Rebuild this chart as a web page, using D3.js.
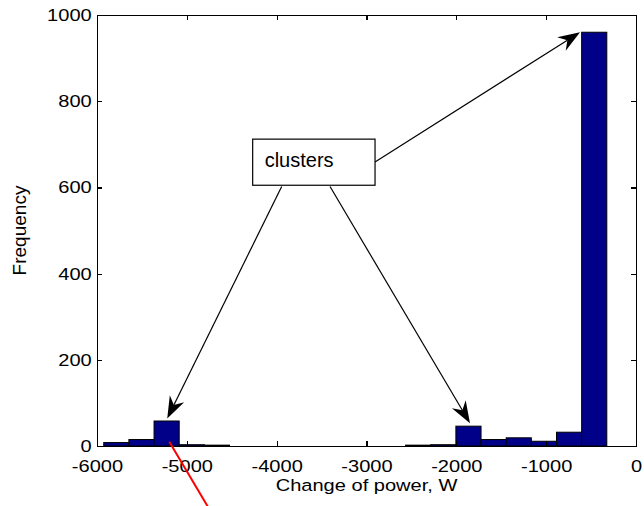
<!DOCTYPE html>
<html>
<head>
<meta charset="utf-8">
<script src="https://d3js.org/d3.v7.min.js"></script>
<style>
body { margin: 0; padding: 0; background: #fff; }
svg { display: block; }
text { font-family: "Liberation Sans", Arial, Helvetica, sans-serif; fill: #000; }
.axis path, .axis line { stroke: #000; stroke-width: 1.2; shape-rendering: crispEdges; }
</style>
</head>
<body>
<svg id="chart" width="644" height="506"></svg>
<script>
// histogram bin edges (W) and counts
const binEdges = [-5925, -5645, -5365, -5085, -4805, -4525, -4245, -3965, -3685, -3405, -3125,
                  -2845, -2565, -2285, -2005, -1725, -1445, -1165, -885, -605, -325];
const counts = [8, 15, 58, 3, 2, 0, 0, 0, 0, 0, 0, 0, 2, 3, 46, 15, 19, 11, 32, 960];
const xTicks = [-6000, -5000, -4000, -3000, -2000, -1000, 0];
const yTicks = [0, 200, 400, 600, 800, 1000];

// annotation: box corners and arrows in data coords
const boxX = [-4267, -2905];
const boxY = [605, 712];
const arrows = [
    { from: [-2905, 659], to: [-623, 960] },
    { from: [-3944, 602], to: [-5218, 64] },
    { from: [-3406, 602], to: [-1848, 53] }
];
const redLine = { from: [-5195, 10], to: [-4740, -150] };

const margin = { top: 15, right: 8, bottom: 60, left: 97 };
const W = 644, H = 506;
const width = W - margin.left - margin.right;
const height = H - margin.top - margin.bottom;
const sx = 1.18; // horizontal stretch of the text in the picture

const svg = d3.select("#chart");
const g = svg.append("g").attr("transform", `translate(${margin.left},${margin.top})`);

const x = d3.scaleLinear().domain([-6000, 0]).range([0, width]);
const y = d3.scaleLinear().domain([0, 1000]).range([height, 0]);

const bins = counts.map((c, i) => ({ x0: binEdges[i], x1: binEdges[i + 1], n: c }));

g.selectAll(".bar")
    .data(bins.filter(d => d.n > 0))
    .enter().append("rect")
    .attr("class", "bar")
    .attr("x", d => x(d.x0))
    .attr("y", d => y(d.n))
    .attr("width", d => x(d.x1) - x(d.x0))
    .attr("height", d => y(0) - y(d.n))
    .attr("fill", "#000088")
    .attr("stroke", "#000")
    .attr("stroke-width", 1);

// axes, ticks inward on all four sides
const fmt = d => String(d);
const xAxis = g.append("g").attr("class", "axis").attr("transform", `translate(0,${height})`)
    .call(d3.axisBottom(x).tickValues(xTicks).tickSize(-5).tickSizeOuter(0).tickFormat(fmt));
xAxis.selectAll("text")
    .attr("y", 13.5).attr("dy", "0.71em")
    .style("font-size", "17px")
    .attr("transform", `scale(${sx},1)`);

const yAxis = g.append("g").attr("class", "axis")
    .call(d3.axisLeft(y).tickValues(yTicks).tickSize(-5).tickSizeOuter(0).tickFormat(fmt));
yAxis.selectAll("text")
    .attr("x", -4.5)
    .style("font-size", "17px")
    .attr("transform", `scale(${sx},1)`);

g.append("g").attr("class", "axis")
    .call(d3.axisTop(x).tickValues(xTicks).tickSize(-5).tickSizeOuter(0).tickFormat(""));
g.append("g").attr("class", "axis").attr("transform", `translate(${width},0)`)
    .call(d3.axisRight(y).tickValues(yTicks).tickSize(-5).tickSizeOuter(0).tickFormat(""));

g.append("text")
    .attr("transform", `translate(${width / 2},${height + 45}) scale(${sx},1)`)
    .attr("text-anchor", "middle")
    .style("font-size", "17px")
    .text("Change of power, W");

svg.append("text")
    .attr("transform", `translate(26,${margin.top + height / 2}) rotate(-90)`)
    .attr("text-anchor", "middle")
    .style("font-size", "19px")
    .text("Frequency");

// annotation
function arrow(a) {
    const x1 = x(a.from[0]), y1 = y(a.from[1]);
    const x2 = x(a.to[0]), y2 = y(a.to[1]);
    const len = Math.hypot(x2 - x1, y2 - y1);
    const ux = (x2 - x1) / len, uy = (y2 - y1) / len;
    const L = 22, hw = 8, notch = 15;
    const bx = x2 - ux * L, by = y2 - uy * L;
    const nx = x2 - ux * notch, ny = y2 - uy * notch;
    g.append("line")
        .attr("x1", x1).attr("y1", y1).attr("x2", nx).attr("y2", ny)
        .attr("stroke", "#000").attr("stroke-width", 1.2);
    g.append("path")
        .attr("d", `M${x2},${y2}L${bx - uy * hw},${by + ux * hw}L${nx},${ny}L${bx + uy * hw},${by - ux * hw}Z`)
        .attr("fill", "#000");
}
arrows.forEach(arrow);

g.append("rect")
    .attr("x", x(boxX[0])).attr("y", y(boxY[1]))
    .attr("width", x(boxX[1]) - x(boxX[0]))
    .attr("height", y(boxY[0]) - y(boxY[1]))
    .attr("fill", "#fff").attr("stroke", "#000").attr("stroke-width", 1.2);

g.append("text")
    .attr("x", x(boxX[0]) + 12)
    .attr("y", y(boxY[0]) - 18)
    .style("font-size", "20px")
    .text("clusters");

g.append("line")
    .attr("x1", x(redLine.from[0])).attr("y1", y(redLine.from[1]))
    .attr("x2", x(redLine.to[0])).attr("y2", y(redLine.to[1]))
    .attr("stroke", "#ff0000").attr("stroke-width", 2);
</script>
</body>
</html>
